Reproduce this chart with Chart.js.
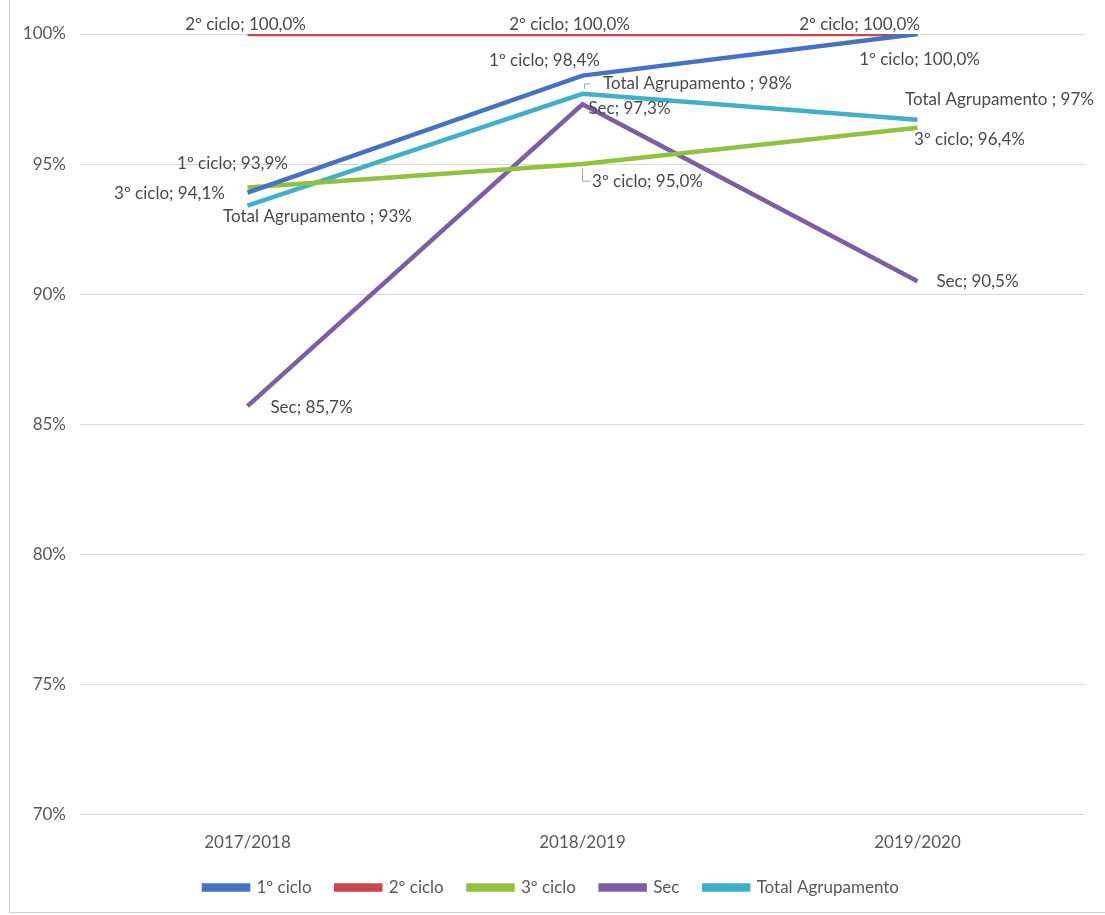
<!DOCTYPE html>
<html>
<head>
<meta charset="utf-8">
<script src="https://cdn.jsdelivr.net/npm/chart.js@4"></script>
<style>
  html, body { margin: 0; padding: 0; background: #fff; }
  #wrap { position: absolute; left: 0; top: 0; width: 1105px; height: 915px; }
  #frame { position: absolute; left: 9px; top: 0; width: 1096px; height: 913px;
           border-left: 1px solid #d0d0d0; border-bottom: 1px solid #d0d0d0; box-sizing: border-box; }
</style>
</head>
<body>
<div id="wrap">
  <div id="frame"></div>
  <canvas id="grafico_linhas" width="1105" height="915"></canvas>
</div>
<script>
var anos = ['2017/2018', '2018/2019', '2019/2020'];
var ciclo1 = [93.9, 98.4, 100.0];
var ciclo2 = [100.0, 100.0, 100.0];
var ciclo3 = [94.1, 95.0, 96.4];
var sec = [85.7, 97.3, 90.5];
var totalAgrup = [93.4, 97.7, 96.7];
var ticksY = [70, 75, 80, 85, 90, 95, 100];

// where each data label sits relative to its point (dx, dy)
var offsetsEtiquetas = [
  [[-15, -29], [-38, -15], [2, 26]],
  [[-2, -9], [-13, -9], [-58, -9]],
  [[-78, 6], [65, 17], [52, 12]],
  [[64, 1], [47, 4], [60, 0]],
  [[70, 11], [115, -10], [82, -20]]
];

var fonte = 'Lato';

var fmt = function(v, casas) {
  return v.toFixed(casas).replace('.', ',') + '%';
};

var etiquetas = {
  id: 'etiquetas',
  afterDatasetsDraw: function(chart) {
    var ctx = chart.ctx;
    ctx.save();
    ctx.font = '17px ' + fonte;
    ctx.fillStyle = '#4a4a4a';
    ctx.textAlign = 'center';
    ctx.textBaseline = 'middle';
    chart.data.datasets.forEach(function(ds, i) {
      var meta = chart.getDatasetMeta(i);
      meta.data.forEach(function(pt, j) {
        var off = offsetsEtiquetas[i][j];
        var tot = ds.label == 'Total Agrupamento';
        var txt = ds.label + (tot ? ' ; ' : '; ') + fmt(ds.data[j], tot ? 0 : 1);
        ctx.fillText(txt, pt.x + off[0], pt.y + off[1]);
      });
    });
    // leader lines
    ctx.strokeStyle = '#a6a6a6';
    ctx.lineWidth = 1;
    var p = chart.getDatasetMeta(2).data[1];
    ctx.beginPath();
    ctx.moveTo(p.x, p.y + 4);
    ctx.lineTo(p.x, p.y + 17);
    ctx.lineTo(p.x + 8, p.y + 17);
    ctx.stroke();
    var q = chart.getDatasetMeta(4).data[1];
    ctx.beginPath();
    ctx.moveTo(q.x + 8, q.y - 10);
    ctx.lineTo(q.x + 2, q.y - 10);
    ctx.lineTo(q.x + 2, q.y - 5);
    ctx.stroke();
    ctx.restore();
  }
};

var serie = function(nome, dados, cor) {
  return {
    label: nome,
    data: dados,
    borderColor: cor,
    backgroundColor: cor,
    borderWidth: 4.5,
    pointRadius: 0,
    tension: 0,
    fill: false
  };
};

new Chart(document.getElementById('grafico_linhas'), {
  type: 'line',
  data: {
    labels: anos,
    datasets: [
      serie('1º ciclo', ciclo1, '#4472c4'),
      serie('2º ciclo', ciclo2, '#c9474a'),
      serie('3º ciclo', ciclo3, '#92c13d'),
      serie('Sec', sec, '#7b5ea6'),
      serie('Total Agrupamento', totalAgrup, '#3fb0c9')
    ]
  },
  plugins: [etiquetas],
  options: {
    responsive: false,
    animation: false,
    layout: { padding: { left: 18, right: 20, top: 34, bottom: 9 } },
    plugins: {
      title: { display: false },
      tooltip: { enabled: false },
      legend: {
        display: true,
        position: 'bottom',
        labels: {
          boxWidth: 44,
          boxHeight: 4,
          padding: 16,
          color: '#595959',
          font: { family: fonte, size: 17 },
          generateLabels: function(chart) {
            var itens = Chart.defaults.plugins.legend.labels.generateLabels(chart);
            itens.forEach(function(it, k) {
              if (k < itens.length - 1) it.text = it.text + '\u00a0\u00a0';
            });
            return itens;
          }
        }
      }
    },
    scales: {
      x: {
        offset: true,
        grid: { display: false },
        border: { display: false },
        ticks: { color: '#595959', padding: 10, font: { family: fonte, size: 17 } }
      },
      y: {
        min: 70,
        max: 100,
        afterBuildTicks: function(ax) {
          ax.ticks = ticksY.map(function(v) { return { value: v }; });
        },
        afterFit: function(ax) { ax.width = 62; },
        grid: { color: '#d9d9d9', drawTicks: false },
        border: { display: false },
        ticks: {
          color: '#595959',
          padding: 14,
          font: { family: fonte, size: 17 },
          callback: function(v) { return v + '%'; }
        }
      }
    }
  }
});
</script>
</body>
</html>
